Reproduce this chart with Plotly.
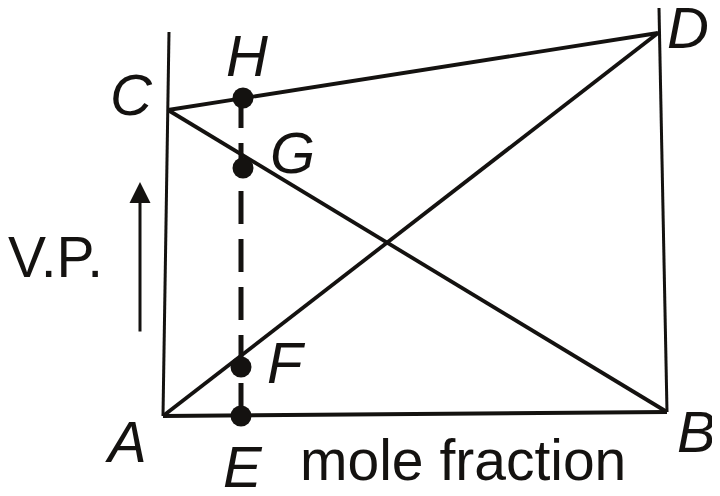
import plotly.graph_objects as go

# point coordinates: mole fraction (x) and vapour pressure (arbitrary units)
names = ['A', 'B', 'C', 'D', 'E', 'F', 'G', 'H']
mole_frac = [0.0, 1.008, 0.01, 0.99, 0.156, 0.156, 0.16, 0.16]
vap_press = [0, 4, 306, 383, 0, 49, 248, 318]
pt = {n: (x, y) for n, x, y in zip(names, mole_frac, vap_press)}

# tops of the two vertical pure-component axes
left_axis_top = (0.012, 384)
right_axis_top = (0.992, 408)

# label text offsets (x, vp) for each named point
label_pos = {
    'A': (-0.074, -25), 'B': (1.066, -15), 'C': (-0.064, 322), 'D': (1.05, 389),
    'E': (0.16, -50), 'F': (0.246, 54), 'G': (0.258, 264), 'H': (0.168, 361),
}

ink = '#141210'
fig = go.Figure()

def seg(p, q, width=3.5, dash=None):
    fig.add_trace(go.Scatter(x=[p[0], q[0]], y=[p[1], q[1]], mode='lines',
                             line=dict(color=ink, width=width, dash=dash),
                             showlegend=False, hoverinfo='skip'))

seg(pt['A'], left_axis_top, 3)
seg(pt['B'], right_axis_top, 3)
seg(pt['A'], pt['B'], 4)
seg(pt['C'], pt['D'], 3.8)
seg(pt['C'], pt['B'], 3.8)
seg(pt['A'], pt['D'], 3.8)
seg(pt['E'], (pt['E'][0], pt['H'][1]), 5, '33px,15px')

dots = ['E', 'F', 'G', 'H']
fig.add_trace(go.Scatter(x=[pt[n][0] for n in dots], y=[pt[n][1] for n in dots],
                         mode='markers', marker=dict(color=ink, size=21),
                         showlegend=False, hoverinfo='skip'))

for n, (lx, ly) in label_pos.items():
    fig.add_annotation(x=lx, y=ly, text='<i>%s</i>' % n, showarrow=False,
                       font=dict(size=58, color=ink, family='Liberation Sans'))

fig.add_annotation(x=0.6, y=-44, text='mole fraction', showarrow=False,
                   font=dict(size=57, color=ink, family='Liberation Sans'))
fig.add_annotation(x=-0.216, y=159, text='V.P.', showarrow=False,
                   font=dict(size=57, color=ink, family='Liberation Sans'))

# upward arrow beside the V.P. label
fig.add_annotation(x=-0.046, y=234, ax=-0.046, ay=83, xref='x', yref='y',
                   axref='x', ayref='y', text='', showarrow=True,
                   arrowhead=2, arrowsize=1.4, arrowwidth=3, arrowcolor=ink)

# page body has an 8px margin, so the plot covers page pixels 8..720 / 8..496
fig.update_xaxes(range=[-0.31, 1.114], visible=False)
fig.update_yaxes(range=[-80, 408], visible=False)
fig.update_layout(width=712, height=488, margin=dict(l=0, r=0, t=0, b=0),
                  plot_bgcolor='white', paper_bgcolor='white')

fig.write_html("out.html")
